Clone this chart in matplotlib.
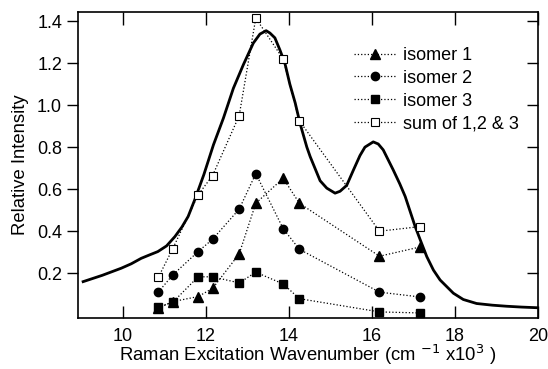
import matplotlib
matplotlib.use("Agg")
import matplotlib.pyplot as plt
from matplotlib.lines import TICKLEFT

plt.rcParams['font.family'] = ['Liberation Sans', 'DejaVu Sans']

# measured spectrum (solid curve)
curve_x = [9.04, 9.5, 9.96, 10.2, 10.44, 10.65, 10.84, 11.05, 11.25, 11.42, 11.57, 11.73,
           11.95, 12.18, 12.42, 12.66, 12.90, 13.14, 13.30, 13.45, 13.54, 13.66, 13.78,
           13.90, 14.02, 14.15, 14.27, 14.43, 14.51, 14.75, 14.91, 15.11, 15.23, 15.39,
           15.55, 15.71, 15.83, 16.03, 16.15, 16.27, 16.51, 16.67, 16.80, 17.04, 17.16,
           17.32, 17.48, 17.64, 17.96, 18.2, 18.52, 18.9, 19.24, 19.6, 19.97]
curve_y = [0.16, 0.19, 0.224, 0.245, 0.271, 0.288, 0.303, 0.33, 0.374, 0.42, 0.47, 0.55,
           0.67, 0.811, 0.938, 1.08, 1.192, 1.295, 1.338, 1.354, 1.343, 1.32, 1.263,
           1.20, 1.10, 1.01, 0.91, 0.80, 0.755, 0.64, 0.605, 0.581, 0.59, 0.618,
           0.69, 0.76, 0.80, 0.825, 0.815, 0.787, 0.692, 0.625, 0.565, 0.422, 0.36,
           0.279, 0.215, 0.168, 0.105, 0.075, 0.056, 0.048, 0.043, 0.039, 0.036]

# calculated isomer intensities
calc_x = [10.85, 11.2, 11.81, 12.16, 12.8, 13.2, 13.86, 14.25, 16.18, 17.16]
isomer1 = [0.033, 0.065, 0.089, 0.128, 0.292, 0.533, 0.652, 0.533, 0.281, 0.325]
isomer2 = [0.11, 0.192, 0.303, 0.362, 0.505, 0.674, 0.412, 0.314, 0.11, 0.087]
isomer3 = [0.04, 0.062, 0.183, 0.183, 0.154, 0.205, 0.149, 0.079, 0.016, 0.011]
sum123 = [0.18, 0.317, 0.573, 0.665, 0.95, 1.414, 1.219, 0.925, 0.40, 0.422]

labels = ['isomer 1', 'isomer 2', 'isomer 3', 'sum of 1,2 & 3']
xticks = [10, 12, 14, 16, 18, 20]
yticks = [0.2, 0.4, 0.6, 0.8, 1.0, 1.2, 1.4]

fig = plt.figure(figsize=(5.48, 3.69), dpi=100)
ax = fig.add_axes([0.1423, 0.1382, 0.8395, 0.8293])

ax.plot(curve_x, curve_y, color='black', lw=2.0, zorder=2, solid_joinstyle='round')

lkw = dict(color='black', ls=':', lw=0.9, zorder=3)
ax.plot(calc_x, isomer1, marker='^', ms=6.5, mfc='black', mec='black', label=labels[0], **lkw)
ax.plot(calc_x, isomer2, marker='o', ms=6, mfc='black', mec='black', label=labels[1], **lkw)
ax.plot(calc_x, isomer3, marker='s', ms=5.5, mfc='black', mec='black', label=labels[2], **lkw)
ax.plot(calc_x, sum123, marker='s', ms=5.5, mfc='white', mec='black', mew=0.8, label=labels[3], **lkw)

ax.set_xlim(8.916, 20.0)
ax.set_ylim(-0.013, 1.443)
ax.set_xticks(xticks)
ax.set_xticklabels([str(t) for t in xticks])
ax.set_yticks(yticks)
ax.set_yticklabels([f'{t:.1f}' for t in yticks])

ax.tick_params(axis='x', direction='in', length=9, width=1, top=True, labelsize=13, pad=7)
ax.tick_params(axis='y', direction='out', length=8, width=1, labelsize=13, right=True)
for t in ax.yaxis.get_major_ticks():
    t.tick2line.set_marker(TICKLEFT)
    t.tick2line.set_markersize(8)
for s in ax.spines.values():
    s.set_linewidth(1.2)

ax.set_xlabel('Raman Excitation Wavenumber (cm $^{-1}$ x10$^{3}$ )', fontsize=13.3, labelpad=-1)
ax.set_ylabel('Relative Intensity', fontsize=13.3, labelpad=6)

ax.legend(loc='upper left', bbox_to_anchor=(0.58, 0.915), frameon=False, fontsize=13,
          handlelength=2.3, handletextpad=0.4, labelspacing=0.32, borderpad=0)

fig.savefig('out.png', dpi=100)
